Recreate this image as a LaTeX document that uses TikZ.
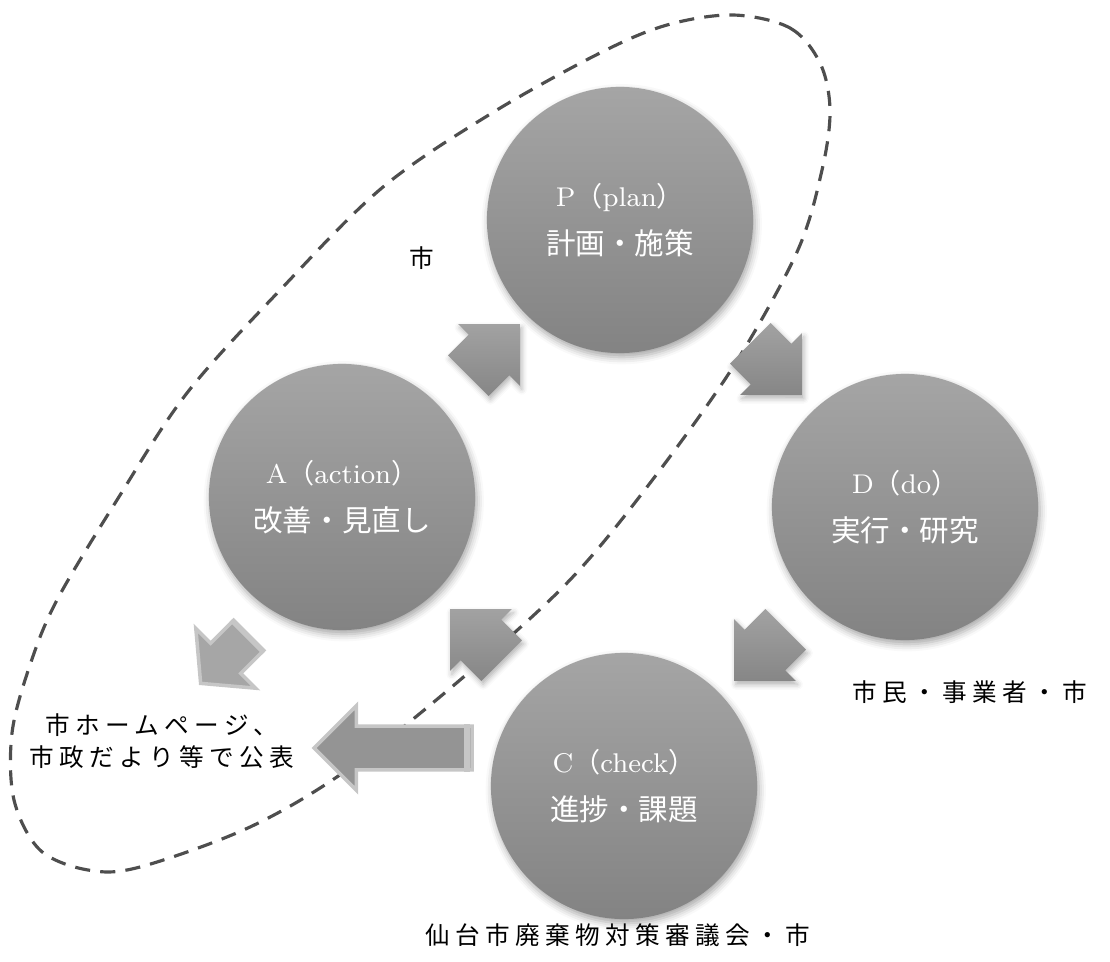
\documentclass[tikz,border=0pt]{standalone}
\usepackage{fontspec}
\newfontfamily\jp{Noto Sans CJK JP}
\newfontfamily\jpsp[LetterSpace=22]{Noto Sans CJK JP}
\newcommand\circjp{\jp\fontsize{8.4}{13.6}\selectfont}
\usetikzlibrary{positioning,%
  calc,%
  shapes.arrows,%
  shadows.blur
}

\definecolor{circtop}{RGB}{165,165,165}
\definecolor{circbot}{RGB}{131,131,131}
\definecolor{arrtop}{RGB}{162,162,162}
\definecolor{arrbot}{RGB}{134,134,134}
\definecolor{outfill}{RGB}{166,166,166}
\definecolor{pubfill}{RGB}{148,148,148}
\definecolor{paleedge}{RGB}{198,198,198}
\definecolor{loopline}{RGB}{78,78,78}

\tikzset{
  phase/.style={circle, minimum size=2.66cm, inner sep=0pt, draw=none,
    top color=circtop, bottom color=circbot, text=white, align=center,
    font=\fontsize{7.7}{13.6}\selectfont,
    blur shadow={shadow xshift=0.5pt, shadow yshift=-1.2pt,
      shadow blur radius=2pt, shadow opacity=35}},
  turn/.style={single arrow, single arrow tip angle=90,
    single arrow head extend=0.15cm, inner xsep=0pt, inner ysep=0.28cm,
    minimum height=0.73cm, draw=none, top color=arrtop, bottom color=arrbot,
    blur shadow={shadow xshift=0.5pt, shadow yshift=-1pt,
      shadow blur radius=1.5pt, shadow opacity=30}},
  flatarrow/.style={single arrow, inner xsep=0pt, draw=paleedge, line width=1pt},
  lbl/.style={font=\jpsp\fontsize{7}{9.1}\selectfont, text=black, inner sep=0pt, align=center}
}

\begin{document}
\begin{tikzpicture}[x=0.01cm, y=-0.01cm]
  \useasboundingbox (0,0) rectangle (1110,961);

  % area of the city
  \draw[loopline, line width=0.9pt, dash pattern=on 4.3pt off 2.9pt]
    plot[smooth cycle, tension=0.55] coordinates {
      (733,15) (790,28) (820,63) (830,110) (822,170) (797,252) (733,367)
      (647,487) (567,583) (460,680) (347,770) (250,827) (140,867) (88,870)
      (40,850) (14,800) (12,733) (30,665) (57,600) (117,500) (187,393)
      (283,287) (383,187) (492,113) (600,53) (667,25)};

  % the cycle
  \node[phase] (plan)  at (620,220) {P{\jp（}plan{\jp）}\\{\circjp 計画・施策}};
  \node[phase] (doit)  at (905,507) {D{\jp（}do{\jp）}\\{\circjp 実行・研究}};
  \node[phase] (check) at (624,786) {C{\jp（}check{\jp）}\\{\circjp 進捗・課題}};
  \node[phase] (act)   at (342,497) {A{\jp（}action{\jp）}\\{\circjp 改善・見直し}};

  \node[turn, rotate=45]  (a2p) at (484,360) {};
  \node[turn, rotate=-45] (p2d) at (766,359) {};
  \node[turn, rotate=225] (d2c) at (770,645) {};
  \node[turn, rotate=135] (c2a) at (486,645) {};

  % publication
  \node[flatarrow, fill=outfill, rotate=225, single arrow tip angle=100,
    single arrow head extend=0.21cm, inner ysep=0.195cm, minimum height=0.68cm]
    (aout) at (231,653) {};
  \draw[paleedge, line width=1pt]
    ($(aout.before tail)!0.12!(aout.after head)$) -- ($(aout.after tail)!0.12!(aout.before head)$);
  \node[flatarrow, fill=pubfill, rotate=180, single arrow tip angle=90,
    single arrow head extend=0.205cm, inner ysep=0.2cm, minimum height=1.58cm]
    (cout) at (404,748) {};
  \draw[paleedge, line width=1.6pt]
    ($(cout.before tail)!0.06!(cout.after head)$) -- ($(cout.after tail)!0.06!(cout.before head)$);

  % who does what
  \node[lbl] (lblcity)    at (422,258) {市};
  \node[lbl] (lblcitizen) at (970,692) {市民・事業者・市};
  \node[lbl] (lblcouncil) at (618,935) {仙台市廃棄物対策審議会・市};
  \node[lbl] (lblpub)     at (162,741) {市ホームページ、\\市政だより等で公表};
\end{tikzpicture}
\end{document}
